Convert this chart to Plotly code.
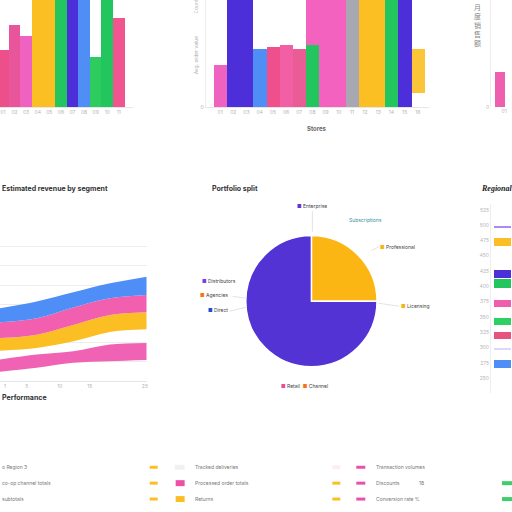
import plotly.graph_objects as go

W = H = 512


def px(x):
    return x / W


def py(y):
    return 1 - y / H


# ---- data -------------------------------------------------------------
# top left bar chart
tl_values = [32, 46, 40, 75, 72, 70, 78, 76, 28, 80, 50]
tl_colors = ["#ec4f8a", "#e9559a", "#f062c0", "#fbbf24", "#fbbf24", "#22c55e",
             "#4c2fd8", "#4f8ef5", "#2ecc5f", "#22c55e", "#f0558f"]
tl_labels = ["01", "02", "03", "04", "05", "06", "07", "08", "09", "10", "11"]

# top middle bar chart
tm_values = [23.9, 70, 70, 32.8, 33.9, 35, 32.8, 70, 70, 70, 70, 70, 70, 70, 70, None]
tm_colors = ["#f062c0", "#4c2fd8", "#4c2fd8", "#4f8ef5", "#ef4f8b", "#f25fa5",
             "#e95c95", "#f462c0", "#f462c0", "#f462c0", "#a8a8b3", "#fbbf24",
             "#fbbf24", "#22c55e", "#4c2fd8", "#fbbf24"]
tm_inner = [None, None, None, None, None, None, None, 35,
            None, None, None, None, None, None, None, None]
tm_float_base = [None] * 15 + [8.3]
tm_float = [None] * 15 + [24.5]
tm_labels = ["01", "02", "03", "04", "05", "06", "07", "08",
             "09", "10", "11", "12", "13", "14", "15", "16"]

# top right (cut off)
tr_values = [20]
tr_labels = ["01"]

# area chart (stacked thicknesses)
ar_x = [0, 1, 2, 3, 4]
ar_base = [4.7, 6.8, 9.4, 10.2, 10.8]
ar_pink_low = [6.4, 6.9, 6.0, 8.7, 8.9]
ar_gap = [4.6, 3.4, 5.2, 6.6, 7.2]
ar_orange = [6.6, 7.0, 8.6, 8.9, 8.9]
ar_pink = [8.3, 8.6, 9.1, 8.7, 9.0]
ar_blue = [7.3, 8.7, 7.9, 7.8, 9.6]
ar_ticks = [0.14, 0.73, 1.63, 2.45, 3.95]
ar_ticktext = ["1", "5", "10", "15", "25"]

# pie
pie_labels = ["Professional", "Enterprise"]
pie_values = [25, 75]
pie_colors = ["#fbb614", "#5433d4"]

# right horizontal bars (cut off)
rb_pos = [1.15, 2.1, 4.19, 4.8, 6.1, 7.3, 8.2, 9.1, 10.05]
rb_values = [60, 60, 60, 60, 60, 60, 60, 60, 60]
rb_widths = [0.12, 0.55, 0.5, 0.62, 0.45, 0.45, 0.5, 0.1, 0.5]
rb_colors = ["#a78bfa", "#fbbf24", "#4c2fd8", "#22c55e", "#ef5fae",
             "#2fcf63", "#e8527f", "#ddd6fe", "#4f8ef7"]
rb_ticktext = ["525", "500", "475", "450", "425", "400",
               "375", "350", "325", "300", "275", "250"]

# bottom legend rows
lg_col_a = ["o Region 3", "co-op channel totals", "subtotals"]
lg_col_b = ["Tracked deliveries", "Processed order totals", "Returns"]
lg_col_c = ["Transaction volumes", "Discounts", "Conversion rate %"]

# ---- figure -------------------------------------------------------------
fig = go.Figure()

fig.add_trace(go.Bar(x=list(range(len(tl_values))), y=tl_values,
                     marker=dict(color=tl_colors, line_width=0),
                     xaxis="x", yaxis="y"))

idx = list(range(len(tm_values)))
fig.add_trace(go.Bar(x=idx, y=tm_values, marker=dict(color=tm_colors, line_width=0),
                     xaxis="x2", yaxis="y2"))
fig.add_trace(go.Bar(x=idx, y=tm_inner, marker=dict(color="#22c55e", line_width=0),
                     xaxis="x2", yaxis="y2"))
fig.add_trace(go.Bar(x=idx, y=tm_float, base=tm_float_base,
                     marker=dict(color="#fbbf24", line_width=0, opacity=0.9),
                     xaxis="x2", yaxis="y2"))

fig.add_trace(go.Bar(x=[0], y=tr_values, marker=dict(color="#ef5fb0", line_width=0),
                     width=0.8, xaxis="x3", yaxis="y3"))

for vals, col in [(ar_base, "rgba(0,0,0,0)"), (ar_pink_low, "#f062b4"),
                  (ar_gap, "rgba(0,0,0,0)"), (ar_orange, "#fbbf24"),
                  (ar_pink, "#f25fae"), (ar_blue, "#4f8ef7")]:
    fig.add_trace(go.Scatter(x=ar_x, y=vals, stackgroup="a", mode="lines",
                             line=dict(width=0, shape="spline", color=col),
                             fillcolor=col, xaxis="x4", yaxis="y4"))

fig.add_trace(go.Pie(labels=pie_labels, values=pie_values, sort=False,
                     direction="clockwise", rotation=0, textinfo="none",
                     marker=dict(colors=pie_colors, line=dict(color="white", width=1.5)),
                     domain=dict(x=[px(246), px(378)], y=[py(369), py(237)])))

fig.add_trace(go.Bar(y=rb_pos, x=rb_values, orientation="h", width=rb_widths,
                     marker=dict(color=rb_colors, line_width=0),
                     xaxis="x5", yaxis="y5"))

tickfont = dict(size=5, color="#b5b5b5")
common = dict(showgrid=False, zeroline=False, fixedrange=True)

fig.update_layout(
    width=W, height=H, autosize=False,
    margin=dict(l=0, r=0, t=0, b=0, pad=0),
    paper_bgcolor="white", plot_bgcolor="white",
    showlegend=False, barmode="overlay", bargap=0,
    font=dict(family="Inter", size=6, color="#555"),
    xaxis=dict(domain=[0, px(133)], range=[-0.25, 11.2], tickvals=list(range(11)),
               ticktext=tl_labels, tickfont=tickfont, showline=True,
               linecolor="#e6e6e6", ticks="", anchor="y", **common),
    yaxis=dict(domain=[py(108), 1], range=[0, 60], showticklabels=False,
               anchor="x", **common),
    xaxis2=dict(domain=[px(206), px(430)], range=[-1.1, 15.86], tickvals=idx,
                ticktext=tm_labels, tickfont=tickfont, showline=True,
                linecolor="#e6e6e6", anchor="y2", **common),
    yaxis2=dict(domain=[py(108), 1], range=[0, 60], tickvals=[0], ticktext=["0"],
                tickfont=tickfont, showline=True, linecolor="#ececec",
                anchor="x2", **common),
    xaxis3=dict(domain=[px(492), 1], range=[-0.7, 0.9], tickvals=[0.35],
                ticktext=tr_labels, tickfont=tickfont, anchor="y3", **common),
    yaxis3=dict(domain=[py(108), 1], range=[0, 60], tickvals=[0], ticktext=["0"],
                tickfont=tickfont, showline=True, linecolor="#ececec",
                anchor="x3", **common),
    xaxis4=dict(domain=[0, px(147)], range=[0, 4], tickvals=ar_ticks,
                ticktext=ar_ticktext, tickfont=tickfont, showline=True,
                linecolor="#e6e6e6", anchor="y4", showgrid=False,
                zeroline=False, fixedrange=True),
    yaxis4=dict(domain=[py(383), py(229)], range=[0, 80], dtick=10,
                showticklabels=False, showgrid=True, gridcolor="#ededed",
                zeroline=False, anchor="x4", fixedrange=True),
    xaxis5=dict(domain=[px(492), 1], range=[-2, 10], showticklabels=False,
                anchor="y5", **common),
    yaxis5=dict(domain=[py(395), py(205)], range=[11.95, -0.39],
                tickvals=list(range(12)), ticktext=rb_ticktext, tickfont=tickfont,
                showline=True, linecolor="#eeeeee", anchor="x5", **common),
)

ann = []


def note(x, y, text, size=6, color="#555", xanchor="left", **kw):
    ann.append(dict(x=px(x), y=py(y), xref="paper", yref="paper", text=text,
                    showarrow=False, xanchor=xanchor, yanchor="middle",
                    font=dict(size=size, color=color, **kw.pop("font", {})), **kw))


def sq(color, text, sym="■"):
    return f'<span style="color:{color}">{sym}</span> {text}'


# top charts
note(318, 129, "<b>Stores</b>", size=6, color="#666", xanchor="center")
note(196, 55, "Avg. order value", size=5, color="#b0b0b0", xanchor="center",
     textangle=-90)
note(196, 6, "Count", size=5, color="#c0c0c0", xanchor="center", textangle=-90)
note(478, 25, "月<br>度<br>销<br>售<br>额", size=7, color="#888", xanchor="center",
     font=dict(family="Noto Sans CJK SC"))

# section titles
note(0, 190, "<b>Estimated revenue by segment</b>", size=7, color="#333")
note(0, 400, "<b>Performance</b>", size=7, color="#333")
note(210, 190, "<b>Portfolio split</b>", size=7, color="#333")
note(480, 190, "<b><i>Regional</i></b>", size=8, color="#222",
     font=dict(family="Liberation Serif"))

# pie labels
note(296, 207, sq("#5b35d5", "Enterprise"), size=5, color="#444")
note(348, 221, "Subscriptions", size=5, color="#3a8fa8")
note(379, 248, sq("#f5b40f", "Professional"), size=5, color="#444")
note(400, 308, sq("#f5b40f", "Licensing"), size=5, color="#444")
note(238, 283, sq("#7c3aed", "Distributors"), size=5, color="#444", xanchor="right")
note(230, 297, sq("#f97316", "Agencies"), size=5, color="#444", xanchor="right")
note(230, 312, sq("#1d4ed8", "Direct"), size=5, color="#444", xanchor="right")
note(280, 388, sq("#ec4899", "Retail") + "  " + sq("#f97316", "Channel"),
     size=5, color="#444")

# bottom legend
for i, (a, b, c) in enumerate(zip(lg_col_a, lg_col_b, lg_col_c)):
    y = 470 + 16 * i
    note(0, y, a, size=5, color="#777")
    note(193, y, b, size=5, color="#777")
    note(375, y, c, size=5, color="#777")
note(418, 486, "18", size=5, color="#777")

fig.update_layout(annotations=ann)

shapes = []


def line(x0, y0, x1, y1):
    shapes.append(dict(type="line", xref="paper", yref="paper", x0=px(x0), y0=py(y0),
                       x1=px(x1), y1=py(y1), line=dict(color="#dcdcdc", width=0.8)))


def swatch(x, y, w, h, color):
    shapes.append(dict(type="rect", xref="paper", yref="paper", x0=px(x),
                       y0=py(y + h / 2), x1=px(x + w), y1=py(y - h / 2),
                       fillcolor=color, line_width=0))


line(313, 233, 313, 212)
line(372, 252, 380, 248)
line(379, 305, 400, 308)
line(233, 298, 246, 300)
line(230, 313, 247, 309)

swatch(150, 470, 8, 3, "#fbbf24")
swatch(150, 486, 8, 3, "#fbbf24")
swatch(150, 502, 8, 3, "#fbbf24")
swatch(175, 470, 10, 5, "#f1f1f4")
swatch(176, 486, 9, 6, "#ec4fa6")
swatch(176, 502, 9, 6, "#fbbf24")
swatch(333, 470, 8, 4, "#fbeef2")
swatch(333, 486, 8, 3, "#fbbf24")
swatch(333, 502, 8, 3, "#fbbf24")
swatch(357, 470, 9, 3, "#e94fb0")
swatch(357, 486, 9, 3, "#e94fb0")
swatch(357, 502, 9, 3, "#e94fb0")
swatch(503, 486, 10, 4, "#3fcf6a")
swatch(503, 502, 10, 4, "#3fcf6a")

fig.update_layout(shapes=shapes)

# the page's default body margin would push the figure 8px off
fig.write_html("out.html", config={"displayModeBar": False},
               post_script="document.body.style.margin='0';"
                           "document.body.style.overflow='hidden';")
